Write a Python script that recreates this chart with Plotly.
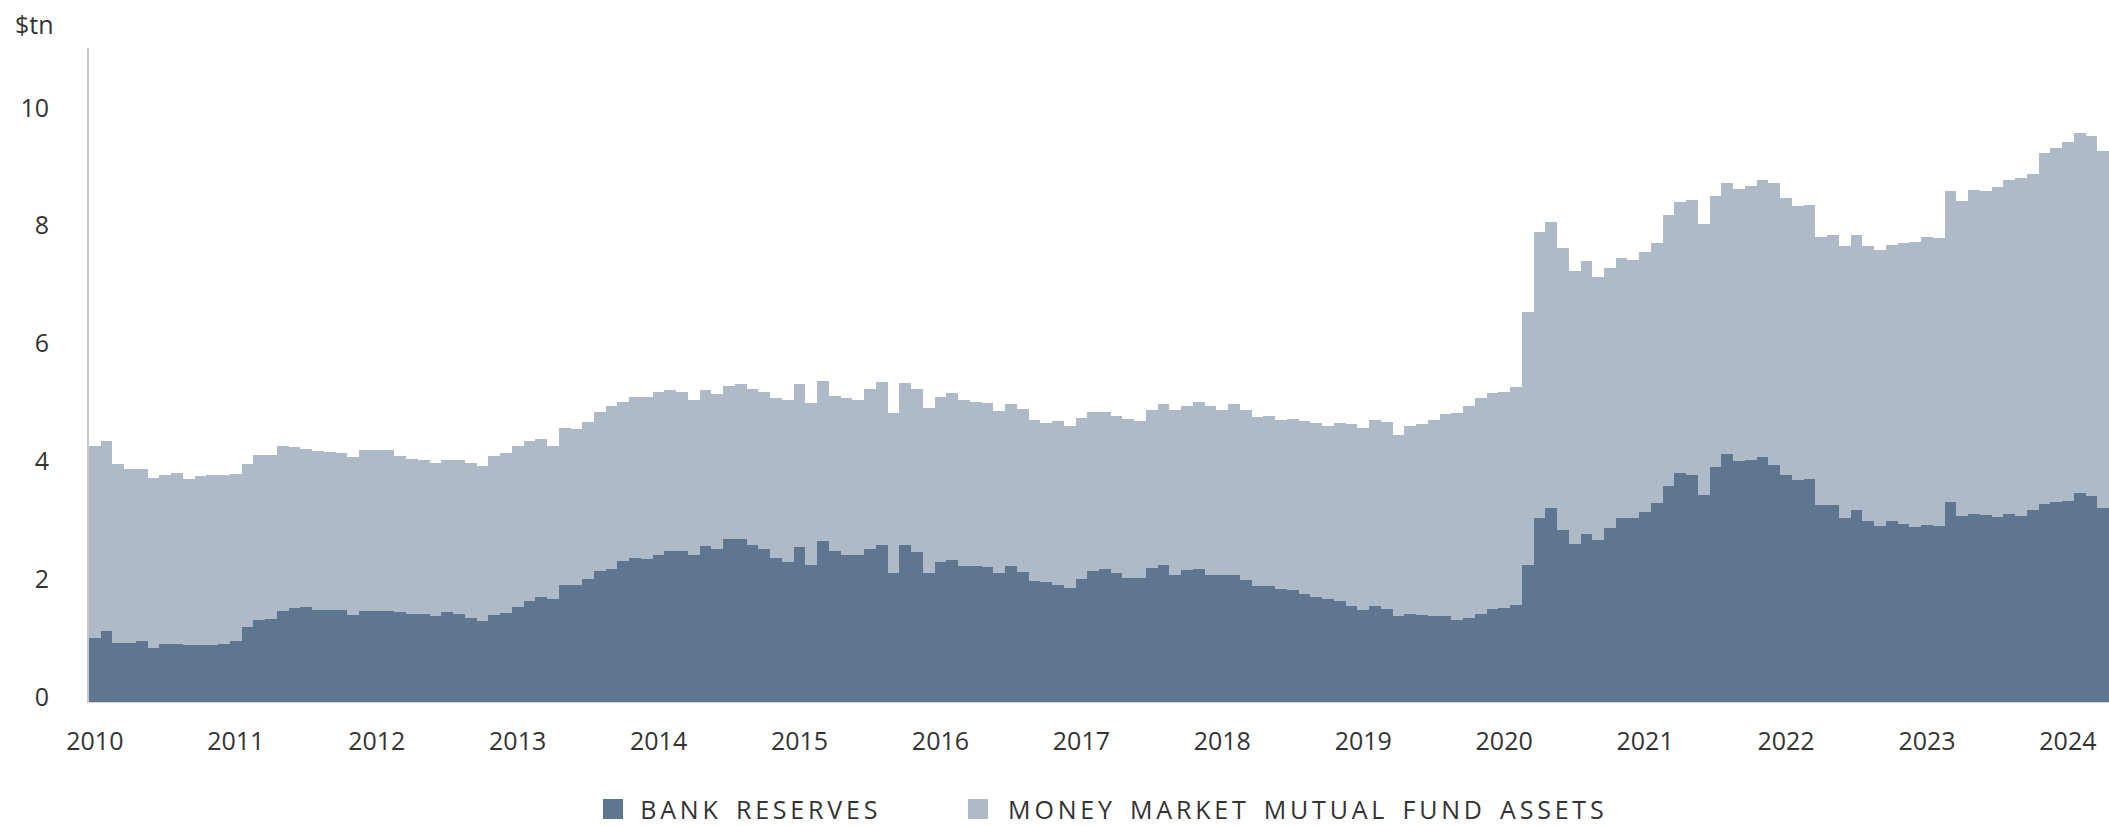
import plotly.graph_objects as go

# ---- data (monthly, Jan 2010 - Apr 2024), $tn ----
years = list(range(2010, 2025))
months = [f"{y}-{m:02d}" for y in years for m in range(1, 13)][:172]

bank_reserves = [
    1.09, 1.20, 1.00, 1.00, 1.04, 0.92, 0.99, 0.99, 0.96, 0.97, 0.97, 0.98,  # 2010
    1.04, 1.28, 1.40, 1.41, 1.54, 1.60, 1.61, 1.57, 1.57, 1.56, 1.47, 1.54,  # 2011
    1.54, 1.54, 1.53, 1.50, 1.49, 1.46, 1.52, 1.50, 1.43, 1.37, 1.48, 1.51,  # 2012
    1.61, 1.71, 1.78, 1.74, 1.98, 1.98, 2.09, 2.22, 2.26, 2.39, 2.45, 2.42,  # 2013
    2.49, 2.56, 2.56, 2.50, 2.64, 2.60, 2.76, 2.76, 2.67, 2.60, 2.45, 2.37,  # 2014
    2.63, 2.32, 2.73, 2.56, 2.50, 2.49, 2.60, 2.67, 2.19, 2.66, 2.54, 2.19,  # 2015
    2.37, 2.41, 2.30, 2.30, 2.29, 2.19, 2.30, 2.20, 2.05, 2.03, 1.99, 1.94,  # 2016
    2.08, 2.22, 2.25, 2.19, 2.11, 2.10, 2.28, 2.32, 2.16, 2.24, 2.26, 2.15,  # 2017
    2.15, 2.16, 2.07, 1.97, 1.97, 1.91, 1.90, 1.84, 1.78, 1.74, 1.71, 1.63,  # 2018
    1.56, 1.63, 1.58, 1.46, 1.50, 1.47, 1.46, 1.46, 1.39, 1.43, 1.50, 1.58,  # 2019
    1.60, 1.64, 2.32, 3.13, 3.30, 2.92, 2.68, 2.85, 2.75, 2.95, 3.12, 3.13,  # 2020
    3.22, 3.38, 3.67, 3.89, 3.86, 3.52, 3.99, 4.21, 4.09, 4.11, 4.16, 4.03,  # 2021
    3.85, 3.76, 3.78, 3.34, 3.34, 3.12, 3.26, 3.07, 2.99, 3.07, 3.02, 2.97,  # 2022
    3.00, 2.99, 3.40, 3.15, 3.19, 3.17, 3.14, 3.19, 3.15, 3.26, 3.36, 3.40,  # 2023
    3.42, 3.54, 3.49, 3.29,                                                  # 2024
]

mmf_assets = [
    3.26, 3.23, 3.04, 2.95, 2.91, 2.88, 2.87, 2.90, 2.83, 2.86, 2.89, 2.87,  # 2010
    2.83, 2.76, 2.79, 2.79, 2.81, 2.73, 2.69, 2.69, 2.67, 2.66, 2.69, 2.74,  # 2011
    2.74, 2.74, 2.64, 2.63, 2.62, 2.59, 2.59, 2.61, 2.62, 2.63, 2.69, 2.71,  # 2012
    2.74, 2.72, 2.69, 2.61, 2.67, 2.65, 2.67, 2.71, 2.76, 2.71, 2.73, 2.76,  # 2013
    2.77, 2.74, 2.70, 2.62, 2.65, 2.62, 2.61, 2.63, 2.64, 2.67, 2.71, 2.75,  # 2014
    2.76, 2.76, 2.71, 2.63, 2.66, 2.63, 2.71, 2.76, 2.71, 2.76, 2.77, 2.80,  # 2015
    2.81, 2.84, 2.82, 2.80, 2.79, 2.75, 2.76, 2.77, 2.74, 2.71, 2.78, 2.75,  # 2016
    2.74, 2.71, 2.68, 2.67, 2.69, 2.67, 2.68, 2.74, 2.79, 2.78, 2.83, 2.87,  # 2017
    2.81, 2.90, 2.89, 2.87, 2.88, 2.87, 2.90, 2.93, 2.96, 2.95, 3.02, 3.08,  # 2018
    3.09, 3.15, 3.17, 3.08, 3.19, 3.24, 3.32, 3.42, 3.52, 3.59, 3.66, 3.67,  # 2019
    3.67, 3.71, 4.30, 4.84, 4.85, 4.78, 4.64, 4.63, 4.46, 4.41, 4.42, 4.37,  # 2020
    4.41, 4.41, 4.59, 4.59, 4.66, 4.60, 4.60, 4.60, 4.61, 4.65, 4.70, 4.78,  # 2021
    4.71, 4.65, 4.66, 4.56, 4.58, 4.62, 4.66, 4.67, 4.68, 4.68, 4.77, 4.84,  # 2022
    4.89, 4.88, 5.28, 5.35, 5.50, 5.51, 5.60, 5.67, 5.74, 5.71, 5.95, 6.00,  # 2023
    6.09, 6.12, 6.11, 6.07,                                                  # 2024
]

year_ticks = [f"{y}-01" for y in years]
year_labels = [str(y) for y in years]

series_names = ["BANK RESERVES", "MONEY MARKET MUTUAL FUND ASSETS"]
DARK = "#5e768f"
LIGHT = "#afbac8"
TEXT = "#333333"
FONT = "Open Sans"

# ---- geometry ----
W, H = 2109, 826
ML, MR, MT, MB = 89, 0, 48, 124
PW, PH = W - ML - MR, H - MT - MB


def px_x(p):
    return (p - ML) / PW


def px_y(p):
    return (H - MB - p) / PH


fig = go.Figure()
fig.add_trace(go.Bar(x=months, y=bank_reserves, name=series_names[0],
                     marker=dict(color=DARK, line=dict(width=0)), showlegend=False))
fig.add_trace(go.Bar(x=months, y=mmf_assets, name=series_names[1],
                     marker=dict(color=LIGHT, line=dict(width=0)), showlegend=False))

# manual legend: squares + labels
leg_y = 809
sq = 20
legend_items = [(603, 760, DARK, series_names[0]), (968, 1308, LIGHT, series_names[1])]
for sx, tx, col, label in legend_items:
    fig.add_shape(type="rect", xref="paper", yref="paper",
                  x0=px_x(sx), x1=px_x(sx + sq), y0=px_y(leg_y + sq / 2), y1=px_y(leg_y - sq / 2),
                  fillcolor=col, line=dict(width=0))
    fig.add_annotation(text=label, xref="paper", yref="paper", x=px_x(tx), y=px_y(leg_y),
                       xanchor="center", yanchor="middle", showarrow=False,
                       font=dict(family=FONT, size=25, color=TEXT))

fig.add_annotation(text="$tn", xref="paper", yref="paper", x=px_x(13), y=px_y(24),
                   xanchor="left", yanchor="middle", showarrow=False,
                   font=dict(family=FONT, size=25, color=TEXT))

fig.update_layout(
    width=W, height=H,
    margin=dict(l=ML, r=MR, t=MT, b=MB),
    barmode="stack", bargap=0,
    plot_bgcolor="white", paper_bgcolor="white",
    font=dict(family=FONT, size=25, color=TEXT),
    xaxis=dict(type="category", categoryorder="array", categoryarray=months,
               range=[-0.5, len(months) - 0.5],
               tickmode="array", tickvals=year_ticks, ticktext=year_labels,
               showgrid=False, zeroline=False, ticks="",
               showline=True, linecolor="#d4d4d4", linewidth=1,
               ticklabelstandoff=17, tickfont=dict(size=25, color=TEXT)),
    yaxis=dict(range=[0, 11.1], tickmode="array", tickvals=[0, 2, 4, 6, 8, 10],
               showgrid=False, zeroline=False, ticks="",
               showline=True, linecolor="#c8c8c8", linewidth=2,
               ticklabelstandoff=33, ticklabelshift=-5,
               tickfont=dict(size=25, color=TEXT)),
)

post = """
document.documentElement.style.margin = '0';
document.documentElement.style.overflow = 'hidden';
document.body.style.margin = '0';
document.body.style.padding = '0';
document.body.style.overflow = 'hidden';
document.querySelectorAll('.annotation-text').forEach(function(t){
  var s = t.textContent;
  if (s === 'BANK RESERVES' || s === 'MONEY MARKET MUTUAL FUND ASSETS') {
    t.style.letterSpacing = '3.8px';
    t.style.wordSpacing = '4px';
  }
});
"""

fig.write_html("out.html", post_script=post, config={"displayModeBar": False})
